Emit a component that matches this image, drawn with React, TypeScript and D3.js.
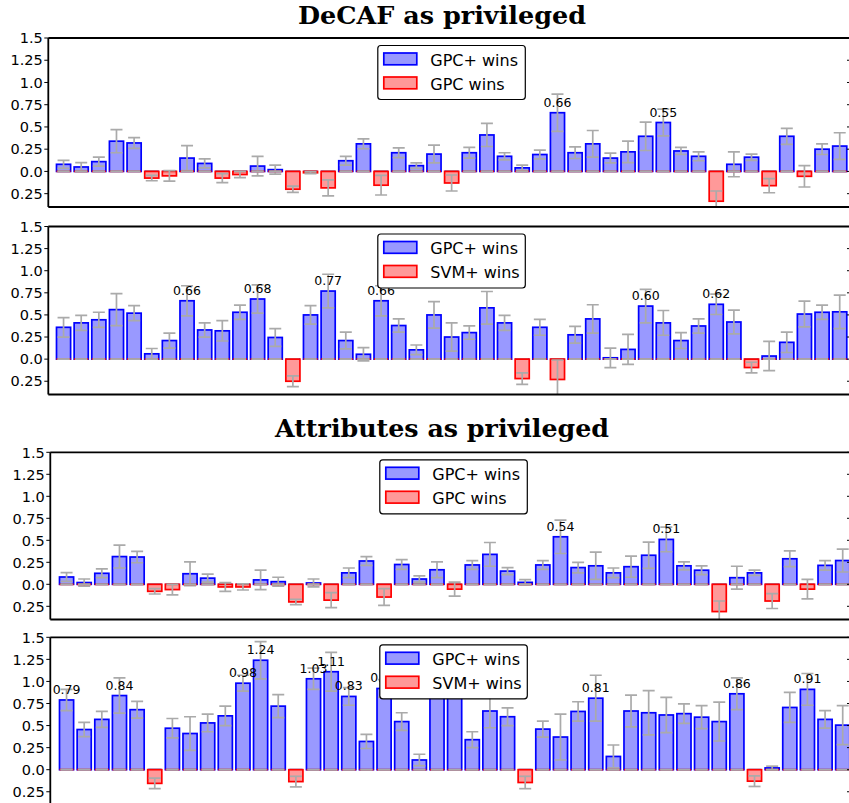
import React from 'react';
import * as d3 from 'd3';

// ---- data (signed: >0 GPC+ wins, <0 other method wins)
const decafGpcVals = [
  0.08, 0.05, 0.11, 0.34, 0.32, -0.075, -0.05, 0.15, 0.09, -0.075,
  -0.035, 0.06, 0.02, -0.2, -0.015, -0.185, 0.12, 0.31, -0.155, 0.21,
  0.065, 0.195, -0.13, 0.21, 0.41, 0.17, 0.04, 0.19, 0.66, 0.21,
  0.31, 0.15, 0.22, 0.395, 0.55, 0.23, 0.17, -0.335, 0.08, 0.16,
  -0.16, 0.395, -0.055, 0.25, 0.285,
];
const decafGpcErr = [
  0.045, 0.05, 0.05, 0.13, 0.06, 0.03, 0.06, 0.14, 0.05, 0.05,
  0.035, 0.11, 0.05, 0.035, 0.01, 0.09, 0.05, 0.055, 0.11, 0.055,
  0.03, 0.1, 0.09, 0.06, 0.13, 0.04, 0.03, 0.05, 0.21, 0.065,
  0.15, 0.055, 0.12, 0.16, 0.15, 0.04, 0.05, 0.115, 0.14, 0.035,
  0.08, 0.09, 0.12, 0.06, 0.15,
];
const decafSvmVals = [
  0.36, 0.41, 0.445, 0.56, 0.52, 0.06, 0.21, 0.66, 0.33, 0.32,
  0.53, 0.68, 0.245, -0.25, 0.5, 0.77, 0.21, 0.055, 0.66, 0.38,
  0.105, 0.5, 0.25, 0.3, 0.58, 0.41, -0.22, 0.36, -0.23, 0.275,
  0.455, 0.015, 0.11, 0.6, 0.41, 0.21, 0.375, 0.62, 0.42, -0.095,
  0.035, 0.19, 0.51, 0.53, 0.535,
];
const decafSvmErr = [
  0.11, 0.085, 0.085, 0.18, 0.085, 0.06, 0.085, 0.17, 0.08, 0.115,
  0.08, 0.16, 0.1, 0.06, 0.105, 0.19, 0.095, 0.075, 0.17, 0.075,
  0.055, 0.15, 0.16, 0.075, 0.185, 0.085, 0.065, 0.09, 0.22, 0.095,
  0.16, 0.11, 0.17, 0.19, 0.14, 0.09, 0.08, 0.115, 0.135, 0.06,
  0.165, 0.115, 0.145, 0.08, 0.19,
];
const attrGpcVals = [
  0.083, 0.02, 0.125, 0.315, 0.31, -0.08, -0.06, 0.12, 0.07, -0.03,
  -0.03, 0.05, 0.03, -0.2, 0.015, -0.18, 0.13, 0.265, -0.145, 0.225,
  0.06, 0.165, -0.055, 0.22, 0.34, 0.15, 0.022, 0.22, 0.54, 0.19,
  0.21, 0.13, 0.2, 0.33, 0.51, 0.21, 0.16, -0.31, 0.075, 0.13,
  -0.19, 0.29, -0.055, 0.215, 0.27,
];
const attrGpcErr = [
  0.05, 0.04, 0.05, 0.13, 0.065, 0.03, 0.06, 0.135, 0.045, 0.05,
  0.035, 0.11, 0.05, 0.03, 0.045, 0.085, 0.055, 0.05, 0.095, 0.055,
  0.035, 0.09, 0.08, 0.05, 0.135, 0.04, 0.03, 0.05, 0.19, 0.06,
  0.155, 0.055, 0.12, 0.15, 0.14, 0.045, 0.05, 0.12, 0.13, 0.03,
  0.085, 0.09, 0.11, 0.055, 0.13,
];
const attrSvmVals = [
  0.79, 0.455, 0.57, 0.84, 0.68, -0.155, 0.47, 0.41, 0.53, 0.61,
  0.98, 1.24, 0.72, -0.135, 1.03, 1.11, 0.83, 0.32, 0.92, 0.545,
  0.11, 1.0, 1.0, 0.34, 0.665, 0.6, -0.145, 0.46, 0.37, 0.66,
  0.81, 0.15, 0.665, 0.645, 0.62, 0.635, 0.595, 0.545, 0.86, -0.13,
  0.02, 0.705, 0.91, 0.57, 0.505,
];
const attrSvmErr = [
  0.12, 0.08, 0.09, 0.2, 0.095, 0.06, 0.11, 0.19, 0.1, 0.11,
  0.09, 0.21, 0.13, 0.06, 0.12, 0.22, 0.1, 0.08, 0.1, 0.1,
  0.065, 0.1, 0.1, 0.09, 0.19, 0.1, 0.07, 0.09, 0.26, 0.11,
  0.26, 0.13, 0.18, 0.25, 0.2, 0.11, 0.13, 0.22, 0.18, 0.06,
  0.02, 0.17, 0.18, 0.1, 0.22,
];

const legendGpc = ['GPC+ wins', 'GPC wins'];
const legendSvm = ['GPC+ wins', 'SVM+ wins'];
const labelThresholds = [0.5, 0.595, 0.5, 0.75];
const titles = ['DeCAF as privileged', 'Attributes as privileged'];

const yTicks = [-0.25, 0, 0.25, 0.5, 0.75, 1, 1.25, 1.5];
const yTickLabels = ['0.25', '0.0', '0.25', '0.5', '0.75', '1.0', '1.25', '1.5'];

// ---- layout
const W = 849;
const H = 803;
const RIGHT = 851;
const PERIOD = 17.64;
const BAR_W = 0.8;
const CAP = 6;
const BLUE = '#0000ff';
const BLUE_FILL = '#9999ff';
const RED = '#ff0000';
const RED_FILL = '#ff9999';
const ERR = '#aaaaaa';
const SANS = '"DejaVu Sans", Verdana, sans-serif';
const SERIF = '"DejaVu Serif", serif';
const LEG_W = 147.5;
const LEG_H = 54;

type PanelProps = {
  id: string;
  vals: number[];
  errs: number[];
  legend: string[];
  threshold: number;
  top: number;
  bottom: number;
  left: number;
  barStart: number;
};

const fmt = d3.format('.2f');

const Panel: React.FC<PanelProps> = ({ id, vals, errs, legend, threshold, top, bottom, left, barStart }) => {
  const y = d3.scaleLinear().domain([-0.4, 1.5]).range([bottom, top]);
  const x = d3.scaleLinear().domain([0, 1]).range([barStart, barStart + PERIOD]);
  const y0 = y(0);
  const bw = x(BAR_W) - x(0);

  const lx = left + 329.5;
  const ly = top + 7.5;

  const errBar = (i: number, v: number, e: number, key: string) => {
    const cx = x(i + BAR_W / 2);
    const hi = y(v + e);
    const lo = y(v - e);
    return (
      <g key={key} stroke={ERR} strokeWidth={1.7}>
        <line x1={cx} x2={cx} y1={hi} y2={lo} />
        <line x1={cx - CAP} x2={cx + CAP} y1={hi} y2={hi} />
        <line x1={cx - CAP} x2={cx + CAP} y1={lo} y2={lo} />
      </g>
    );
  };

  // labels fully hidden behind the legend box are not drawn
  const hiddenByLegend = (cx: number, ty: number) =>
    cx - 14 > lx && cx + 14 < lx + LEG_W && ty - 10 > ly && ty < ly + LEG_H;

  return (
    <g>
      <defs>
        <clipPath id={`clip-${id}`}>
          <rect x={left} y={top} width={RIGHT - left} height={bottom - top} />
        </clipPath>
      </defs>
      <g clipPath={`url(#clip-${id})`}>
        {/* GPC+ wins bars */}
        {vals.map((v, i) =>
          v >= 0 ? (
            <rect key={`b${i}`} x={x(i)} y={y(v)} width={bw} height={y0 - y(v)}
              fill={BLUE_FILL} stroke={BLUE} strokeWidth={1.7} />
          ) : (
            <line key={`b${i}`} x1={x(i)} x2={x(i) + bw} y1={y0} y2={y0} stroke={BLUE} strokeWidth={1.7} />
          )
        )}
        {vals.map((v, i) => (v >= 0 ? errBar(i, v, errs[i], `be${i}`) : errBar(i, 0, 0, `be${i}`)))}
        {/* other method wins bars */}
        {vals.map((v, i) =>
          v < 0 ? (
            <rect key={`r${i}`} x={x(i)} y={y0} width={bw} height={y(v) - y0}
              fill={RED_FILL} stroke={RED} strokeWidth={1.7} />
          ) : (
            <line key={`r${i}`} x1={x(i)} x2={x(i) + bw} y1={y0} y2={y0} stroke={RED} strokeWidth={1.7} />
          )
        )}
        {vals.map((v, i) => (v < 0 ? errBar(i, v, errs[i], `re${i}`) : errBar(i, 0, 0, `re${i}`)))}
        {vals.map((v, i) => {
          const cx = x(i + BAR_W / 2);
          const ty = y(v) - 6;
          if (v < threshold || hiddenByLegend(cx, ty)) return null;
          return (
            <text key={`t${i}`} x={cx} y={ty} textAnchor="middle" fontFamily={SANS} fontSize={12.5} fill="#000">
              {fmt(v)}
            </text>
          );
        })}
      </g>

      {/* spines */}
      <line x1={left} x2={left} y1={top} y2={bottom} stroke="#000" strokeWidth={1.8} />
      <line x1={left} x2={RIGHT} y1={top} y2={top} stroke="#000" strokeWidth={1.8} />
      <line x1={left} x2={RIGHT} y1={bottom} y2={bottom} stroke="#000" strokeWidth={1.8} />
      <line x1={RIGHT} x2={RIGHT} y1={top} y2={bottom} stroke="#000" strokeWidth={1.8} />

      {/* ticks */}
      {yTicks.map((t, k) => (
        <g key={`yt${k}`}>
          <line x1={left - 4} x2={left} y1={y(t)} y2={y(t)} stroke="#000" strokeWidth={1} />
          <line x1={RIGHT - 4} x2={RIGHT} y1={y(t)} y2={y(t)} stroke="#000" strokeWidth={1} />
          <text x={left - 5.5} y={y(t)} dy="0.36em" textAnchor="end" fontFamily={SANS} fontSize={14.5} fill="#000">
            {yTickLabels[k]}
          </text>
        </g>
      ))}

      {/* legend */}
      <g>
        <rect x={lx} y={ly} width={LEG_W} height={LEG_H} rx={3} ry={3} fill="#fff" stroke="#000" strokeWidth={1.2} />
        <rect x={lx + 6} y={ly + 7.5} width={33} height={11.8} fill={BLUE_FILL} stroke={BLUE} strokeWidth={1.7} />
        <rect x={lx + 6} y={ly + 31.5} width={33} height={11.8} fill={RED_FILL} stroke={RED} strokeWidth={1.7} />
        <text x={lx + 52.5} y={ly + 20} fontFamily={SANS} fontSize={16} fill="#000">{legend[0]}</text>
        <text x={lx + 52.5} y={ly + 44} fontFamily={SANS} fontSize={16} fill="#000">{legend[1]}</text>
      </g>
    </g>
  );
};

const App: React.FC = () => {
  return (
    <div style={{ position: 'fixed', left: 0, top: 0 }}>
      <svg width={W} height={H} viewBox={`0 0 ${W} ${H}`} style={{ display: 'block', background: '#fff' }}>
        <text x={442} y={23.5} textAnchor="middle" fontFamily={SERIF} fontWeight="bold" fontSize={24}
          textLength={288} lengthAdjust="spacingAndGlyphs">
          {titles[0]}
        </text>
        <text x={442} y={437} textAnchor="middle" fontFamily={SERIF} fontWeight="bold" fontSize={24}
          textLength={334} lengthAdjust="spacingAndGlyphs">
          {titles[1]}
        </text>
        <Panel id="p1" vals={decafGpcVals} errs={decafGpcErr} legend={legendGpc} threshold={labelThresholds[0]}
          top={38} bottom={207} left={48.3} barStart={56.5} />
        <Panel id="p2" vals={decafSvmVals} errs={decafSvmErr} legend={legendSvm} threshold={labelThresholds[1]}
          top={226.5} bottom={394.5} left={48.3} barStart={56.5} />
        <Panel id="p3" vals={attrGpcVals} errs={attrGpcErr} legend={legendGpc} threshold={labelThresholds[2]}
          top={452.3} bottom={619.5} left={50.3} barStart={59.5} />
        <Panel id="p4" vals={attrSvmVals} errs={attrSvmErr} legend={legendSvm} threshold={labelThresholds[3]}
          top={637.3} bottom={805} left={50.3} barStart={59.5} />
      </svg>
    </div>
  );
};

export default App;
